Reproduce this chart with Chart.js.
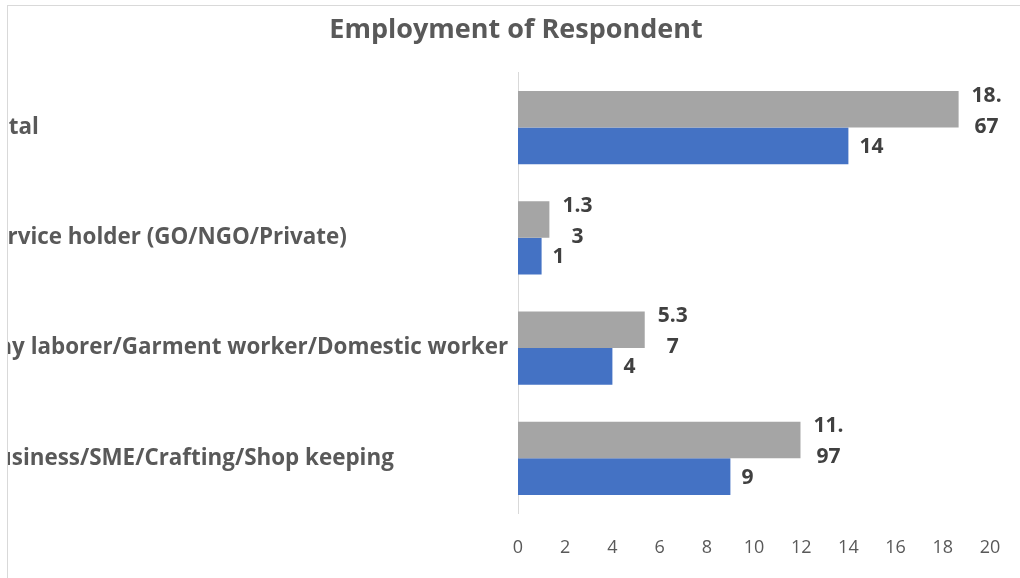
<!DOCTYPE html>
<html>
<head>
<meta charset="utf-8">
<title>Employment of Respondent</title>
<script src="https://cdn.jsdelivr.net/npm/chart.js@4.4.1/dist/chart.umd.min.js"></script>
<style>
    body { margin: 0; background: #fff; overflow: hidden; }
    #frame {
        position: absolute; left: 7px; top: 5px; width: 1013px; height: 573px;
        border-left: 1px solid #d9d9d9; border-top: 1px solid #d9d9d9;
        overflow: hidden;
    }
    #wrap { position: absolute; left: -26px; top: 0; width: 1068px; height: 577px; }
</style>
<script>
    const categories = [
        'Total',
        'Service holder (GO/NGO/Private)',
        'Day laborer/Garment worker/Domestic worker',
        'Business/SME/Crafting/Shop keeping'
    ];
    const percentValues = [18.67, 1.33, 5.37, 11.97];
    const countValues = [14, 1, 4, 9];
    const xTickValues = [0, 2, 4, 6, 8, 10, 12, 14, 16, 18, 20];

    const fontFamily = "'Open Sans', sans-serif";

    // value labels next to the bar ends, wrapped after 3 characters
    const barValueLabels = {
        id: 'barValueLabels',
        afterDatasetsDraw(chart) {
            const ctx = chart.ctx;
            ctx.save();
            ctx.font = 'bold 21px ' + fontFamily;
            ctx.fillStyle = '#404040';
            ctx.textBaseline = 'middle';
            chart.data.datasets.forEach(function(ds, di) {
                const meta = chart.getDatasetMeta(di);
                meta.data.forEach(function(bar, i) {
                    const text = String(ds.data[i]);
                    const lines = [];
                    for (let p = 0; p < text.length; p += 3) lines.push(text.slice(p, p + 3));
                    if (lines.length === 1) {
                        ctx.textAlign = 'left';
                        ctx.fillText(text, bar.x + 11, bar.y + 1);
                    } else {
                        ctx.textAlign = 'center';
                        lines.forEach(function(line, li) {
                            ctx.fillText(line, bar.x + 28, bar.y + 2 + (li - (lines.length - 1) / 2) * 31);
                        });
                    }
                });
            });
            ctx.restore();
        }
    };

    function loaded()
    {
        const ctx = document.getElementById('chart');
        new Chart(ctx, {
            type: 'bar',
            data: {
                labels: categories,
                datasets: [{
                    label: 'Percentage',
                    data: percentValues,
                    backgroundColor: '#a5a5a5'
                }, {
                    label: 'Frequency',
                    data: countValues,
                    backgroundColor: '#4472c4'
                }]
            },
            options: {
                indexAxis: 'y',
                responsive: false,
                animation: false,
                devicePixelRatio: 1,
                categoryPercentage: 0.664,
                barPercentage: 1.0,
                layout: { padding: { top: 0, left: 0, right: 0, bottom: 8 } },
                scales: {
                    x: {
                        min: 0,
                        max: 20,
                        grid: { display: false },
                        border: { display: false },
                        afterBuildTicks: function(scale) {
                            scale.ticks = xTickValues.map(v => ({ value: v }));
                        },
                        ticks: {
                            color: '#595959',
                            padding: 16,
                            font: { family: fontFamily, size: 18 }
                        }
                    },
                    y: {
                        grid: { display: false },
                        border: { display: true, color: '#d9d9d9', width: 1 },
                        afterFit: function(scale) { scale.width = 536; },
                        ticks: {
                            crossAlign: 'far',
                            color: '#595959',
                            font: { family: fontFamily, size: 22.4, weight: 'bold' }
                        }
                    },
                    // empty strip on the right so the plot ends short of the canvas edge
                    spacer: {
                        type: 'category',
                        position: 'right',
                        grid: { display: false },
                        border: { display: false },
                        ticks: { display: false },
                        afterFit: function(scale) { scale.width = 60; }
                    }
                },
                plugins: {
                    legend: { display: false },
                    tooltip: { enabled: false },
                    title: {
                        display: true,
                        text: 'Employment of Respondent',
                        color: '#595959',
                        font: { family: fontFamily, size: 27, weight: 'bold' },
                        padding: { top: 8, bottom: 26 }
                    }
                }
            },
            plugins: [barValueLabels]
        });
    }

    window.addEventListener('load', loaded, true);
</script>
</head>
<body>
    <div id="frame">
        <div id="wrap">
            <canvas id="chart" width="1068" height="577"></canvas>
        </div>
    </div>
</body>
</html>
